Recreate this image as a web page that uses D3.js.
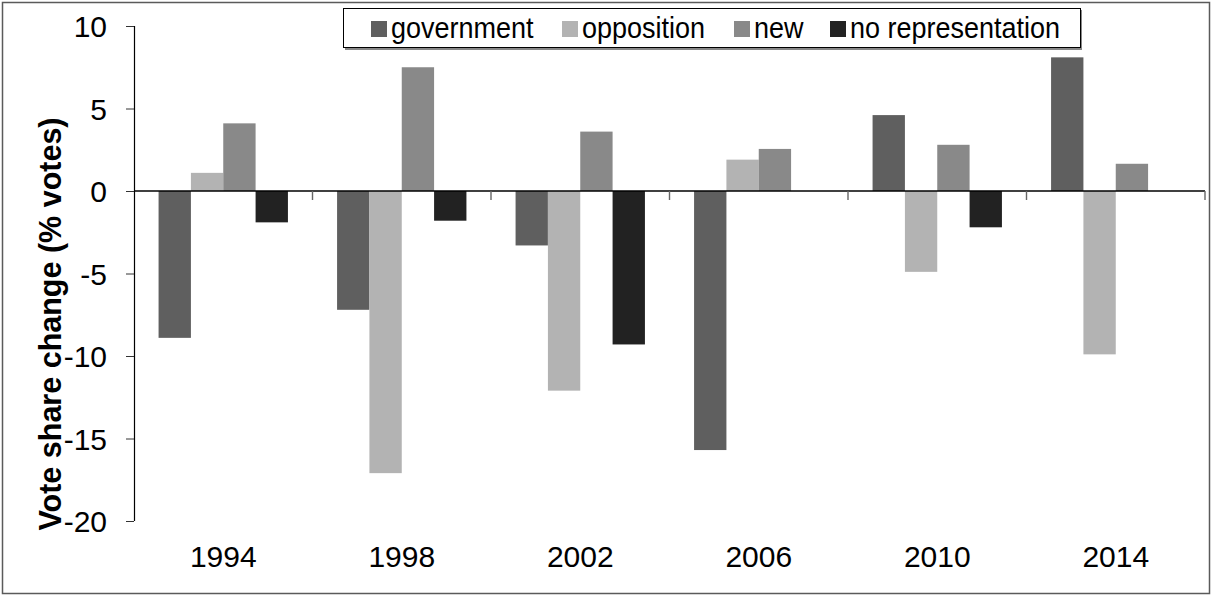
<!DOCTYPE html>
<html>
<head>
<meta charset="utf-8">
<script src="https://cdn.jsdelivr.net/npm/d3@7"></script>
<style>
  html, body { margin: 0; padding: 0; background: #fff; }
  svg { display: block; font-family: "Liberation Sans", Arial, sans-serif; }
</style>
</head>
<body>
<svg id="chart" width="1212" height="596"></svg>
<script>
// Election years on the category axis
const years = ["1994", "1998", "2002", "2006", "2010", "2014"];

// Party groups (series)
const seriesNames = ["government", "opposition", "new", "no representation"];
const seriesColors = ["#5f5f5f", "#b3b3b3", "#898989", "#222222"];

// Vote share change (% votes) per year, one array per series
const government       = [-8.9, -7.2, -3.3, -15.7, 4.6, 8.1];
const opposition       = [1.1, -17.1, -12.1, 1.9, -4.9, -9.9];
const newParties       = [4.1, 7.5, 3.6, 2.55, 2.8, 1.65];
const noRepresentation = [-1.9, -1.8, -9.3, 0, -2.2, 0];

const yTicks = [-20, -15, -10, -5, 0, 5, 10];
const yTitle = "Vote share change (% votes)";

const seriesValues = [government, opposition, newParties, noRepresentation];

const svg = d3.select("#chart");

// Outer frame
svg.append("rect")
  .attr("x", 2.5).attr("y", 2.5)
  .attr("width", 1207).attr("height", 591)
  .attr("fill", "none")
  .attr("stroke", "#5a5a5a")
  .attr("stroke-width", 1.5);

const plot = { left: 134, right: 1205, top: 26, bottom: 521 };

const y = d3.scaleLinear().domain([-20, 10]).range([plot.bottom, plot.top]);
const x = d3.scaleBand().domain(years).range([plot.left, plot.right]).padding(0);
const xInner = d3.scaleBand()
  .domain(seriesNames)
  .range([0, x.bandwidth()])
  .paddingInner(0)
  .paddingOuter(0.76);

// Bars
const groups = svg.append("g").selectAll("g")
  .data(years)
  .join("g")
  .attr("transform", d => `translate(${x(d)},0)`);

groups.selectAll("rect")
  .data((yr, i) => seriesNames.map((s, k) => ({ s, k, v: seriesValues[k][i] })))
  .join("rect")
  .attr("x", d => xInner(d.s))
  .attr("width", xInner.bandwidth())
  .attr("y", d => y(Math.max(0, d.v)))
  .attr("height", d => Math.abs(y(d.v) - y(0)))
  .attr("fill", d => seriesColors[d.k]);

// Y axis
const yAxis = svg.append("g")
  .attr("transform", `translate(${plot.left},0)`)
  .call(d3.axisLeft(y).tickValues(yTicks).tickSize(8).tickPadding(19).tickFormat(d3.format("d")));
yAxis.select(".domain").attr("stroke", "#000").attr("stroke-width", 1.2)
  .attr("d", `M0.5,${plot.top}V${plot.bottom}`);
yAxis.selectAll(".tick line").attr("stroke", "#333");
yAxis.selectAll(".tick text")
  .attr("font-size", 30)
  .attr("font-family", "Liberation Sans, Arial, sans-serif")
  .attr("fill", "#000")
  .attr("dy", "0.35em")
  .text(d => d < 0 ? "-" + Math.abs(d) : d);

// Zero line with category separator ticks
const y0 = y(0);
svg.append("line")
  .attr("x1", plot.left).attr("x2", plot.right)
  .attr("y1", y0).attr("y2", y0)
  .attr("stroke", "#000").attr("stroke-width", 1.6);
svg.append("g").selectAll("line")
  .data(years.slice(1).concat(["end"]))
  .join("line")
  .attr("x1", (d, i) => plot.left + x.step() * (i + 1))
  .attr("x2", (d, i) => plot.left + x.step() * (i + 1))
  .attr("y1", y0).attr("y2", y0 + 9)
  .attr("stroke", "#666").attr("stroke-width", 1.4);

// Year labels along the bottom
svg.append("g").selectAll("text")
  .data(years)
  .join("text")
  .attr("x", d => x(d) + x.bandwidth() / 2)
  .attr("y", 567)
  .attr("text-anchor", "middle")
  .attr("font-size", 30)
  .attr("fill", "#000")
  .text(d => d);

// Y axis title
svg.append("text")
  .attr("transform", "translate(61,324) rotate(-90)")
  .attr("text-anchor", "middle")
  .attr("font-size", 30.5)
  .attr("font-weight", "bold")
  .attr("fill", "#000")
  .text(yTitle);

// Legend
const legend = svg.append("g");
legend.append("rect")
  .attr("x", 345).attr("y", 10).attr("width", 737).attr("height", 40)
  .attr("fill", "#888");
legend.append("rect")
  .attr("x", 343.5).attr("y", 8.5).attr("width", 737).attr("height", 39)
  .attr("fill", "#fff").attr("stroke", "#000").attr("stroke-width", 1);

const legendX = [371, 562, 734, 830];
const items = legend.selectAll("g.item")
  .data(seriesNames)
  .join("g")
  .attr("class", "item")
  .attr("transform", (d, i) => `translate(${legendX[i]},0)`);
items.append("rect")
  .attr("x", 0).attr("y", 21).attr("width", 16).attr("height", 16)
  .attr("fill", (d, i) => seriesColors[i]);
items.append("text")
  .attr("transform", "translate(20,37.5) scale(0.9,1)")
  .attr("font-size", 30)
  .attr("fill", "#000")
  .text(d => d);
</script>
</body>
</html>
